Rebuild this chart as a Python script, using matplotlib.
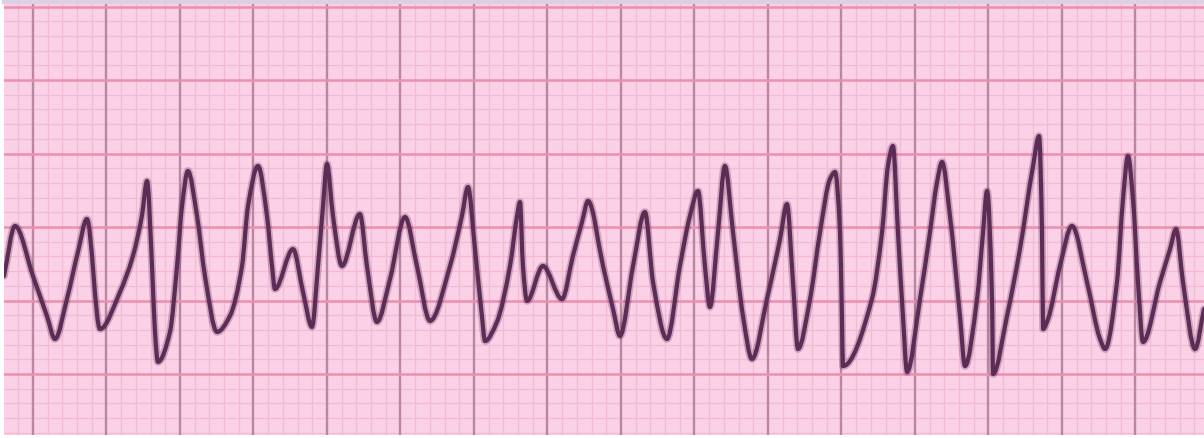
import numpy as np
import matplotlib
matplotlib.use("Agg")
import matplotlib.pyplot as plt
from matplotlib.path import Path
from matplotlib.patches import PathPatch

t_mm = [-1.97, -1.22, 0.00, 0.95, 1.50, 2.31, 3.06, 3.67, 4.56, 5.92,
        6.80, 7.41, 7.76, 8.10, 8.30, 8.50, 9.32, 9.80, 10.14, 10.54,
        11.16, 11.70, 12.52, 13.40, 14.22, 14.63, 15.31, 15.92, 16.26, 16.46,
        17.69, 18.37, 18.98, 19.39, 19.73, 20.00, 20.41, 21.02, 22.24, 22.72,
        23.40, 24.29, 25.31, 26.12, 27.01, 28.37, 29.18, 29.59, 30.07, 30.54,
        30.75, 31.56, 32.45, 32.93, 33.13, 33.33, 33.61, 34.69, 35.99, 36.73,
        37.35, 37.76, 38.78, 39.46, 39.93, 40.82, 41.63, 42.18, 43.13, 44.01,
        44.69, 45.24, 45.71, 46.05, 46.60, 47.07, 47.62, 48.30, 48.91, 49.93,
        50.82, 51.29, 51.70, 52.04, 52.86, 53.54, 54.22, 54.56, 54.90, 55.03,
        55.10, 57.07, 57.76, 58.16, 58.50, 58.84, 59.18, 59.46, 60.34,
        61.02, 61.50, 61.84, 62.38, 63.06, 63.40, 64.22, 64.63, 64.90, 65.24,
        65.31, 66.26, 67.14, 68.03, 68.44, 68.64, 68.71, 69.05, 69.86, 70.68,
        71.70, 72.59, 72.93, 73.74, 74.15, 74.49, 74.83, 75.17, 75.51, 76.67,
        77.35, 77.76, 78.23, 79.05, 79.66]
amp_mm = [-3.33, 0.07, -3.33, -6.05, -7.62, -4.90, -1.70, 0.54, -6.94, -4.42,
          -1.97, 0.75, 3.13, -2.65, -7.14, -9.18, -7.14, -2.65, 1.43, 3.81,
          0.75, -3.33, -7.14, -6.05, -2.65, 1.43, 4.15, 0.75, -2.65, -4.22,
          -1.50, -4.42, -6.80, -2.65, 1.43, 4.29, 0.75, -2.65, 0.88, -2.65,
          -6.46, -3.54, 0.68, -2.65, -6.39, -2.65, 0.75, 2.72, -1.50, -6.05,
          -7.76, -6.46, -2.65, 0.75, 1.70, -2.65, -5.03, -2.65, -4.90, -1.97,
          0.34, 1.77, -2.65, -5.58, -7.41, -2.65, 1.02, -3.74, -7.62, -2.65,
          0.75, 2.45, -2.65, -5.44, -0.34, 4.15, -0.34, -6.05, -8.98, -4.90,
          -0.82, 1.56, -3.74, -8.30, -4.90, -0.34, 3.27, 3.74, -0.34, -6.05,
          -9.46, -4.90, -0.34, 4.15, 5.51, -0.34, -6.05, -9.86, -4.90,
          -0.34, 3.06, 4.42, 0.75, -6.05, -9.46, -4.90, -0.34, 2.45, -4.90,
          -10.00, -6.05, -1.50, 4.15, 6.19, -0.34, -6.94, -6.26, -2.65, 0.07,
          -3.74, -7.62, -8.30, -3.74, 1.90, 4.83, 1.90, -3.74, -7.82, -3.74,
          -1.50, -0.14, -3.74, -8.30, -5.58]

x_lim = (-1.97, 79.66)
y_lim = (-14.15, 15.31)

paper = "#fad1e7"
minor_col = "#f4b9d3"
hmajor_col = "#ee8fad"
vmajor_col = "#bb86a2"
ink = "#5c2c55"


def pchip_slopes(x, y):
    h = np.diff(x)
    delta = np.diff(y) / h
    d = np.zeros(len(x))
    d[0], d[-1] = delta[0], delta[-1]
    for k in range(1, len(x) - 1):
        if delta[k - 1] * delta[k] <= 0:
            d[k] = 0.0
        else:
            w1 = 2 * h[k] + h[k - 1]
            w2 = h[k] + 2 * h[k - 1]
            d[k] = (w1 + w2) / (w1 / delta[k - 1] + w2 / delta[k])
    return d


def trace_path(x, y):
    # smooth stroke through the read points, drawn as bezier segments
    x = np.asarray(x)
    y = np.asarray(y)
    d = pchip_slopes(x, y)
    verts = [(x[0], y[0])]
    codes = [Path.MOVETO]
    for i in range(len(x) - 1):
        h = x[i + 1] - x[i]
        verts += [(x[i] + h / 3, y[i] + d[i] * h / 3),
                  (x[i + 1] - h / 3, y[i + 1] - d[i + 1] * h / 3),
                  (x[i + 1], y[i + 1])]
        codes += [Path.CURVE4] * 3
    return Path(verts, codes)


fig = plt.figure(figsize=(12.04, 4.39), dpi=100, facecolor="white")
ax = fig.add_axes([4 / 1204, 3 / 439, 1200 / 1204, 433 / 439])
ax.set_facecolor(paper)

# small boxes
for v in np.arange(-1, 80, 1):
    if v % 5:
        ax.axvline(v, color=minor_col, lw=0.9, zorder=1)
for h in np.arange(-14, 16, 1):
    if h % 5:
        ax.axhline(h, color=minor_col, lw=0.9, zorder=1)
# big boxes
for v in np.arange(0, 80, 5):
    ax.axvline(v, color=vmajor_col, lw=1.7, zorder=2)
for h in np.arange(-10, 16, 5):
    ax.axhline(h, color=hmajor_col, lw=1.8, zorder=2)

p = trace_path(t_mm, amp_mm)
# soft halo + core to mimic the blurry scan
ax.add_patch(PathPatch(p, fill=False, edgecolor=ink, lw=5.5, alpha=0.28,
                       joinstyle="round", capstyle="round", zorder=3))
ax.add_patch(PathPatch(p, fill=False, edgecolor=ink, lw=3.0,
                       joinstyle="round", capstyle="round", zorder=4))

ax.set_xlim(*x_lim)
ax.set_ylim(*y_lim)
ax.set_xticks([])
ax.set_yticks([])
for side in ["left", "right", "bottom"]:
    ax.spines[side].set_visible(False)
ax.spines["top"].set_color("#ddd0e4")
ax.spines["top"].set_linewidth(3)

fig.savefig("out.png", dpi=100, facecolor="white")
